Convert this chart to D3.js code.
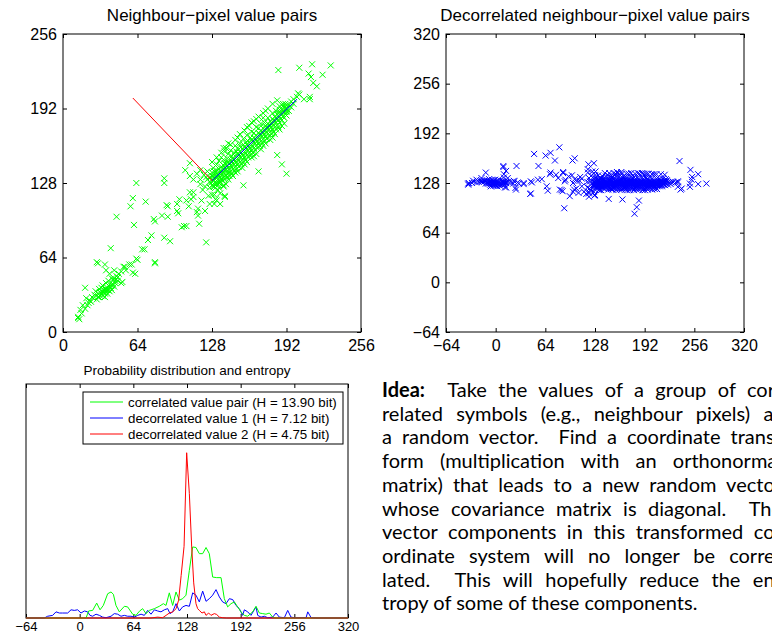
<!DOCTYPE html>
<html>
<head>
<meta charset="utf-8">
<script src="https://cdn.jsdelivr.net/npm/d3@7"></script>
<style>
body { margin: 0; background: #fff; overflow: hidden; }
svg { display: block; }
.axis text { font-family: "Liberation Sans", Arial, sans-serif; fill: #000; }
.axis line { stroke: #000; }
</style>
</head>
<body>
<div id="chart"></div>
<script>
// neighbour pixel value pairs [left pixel, right pixel]
var pixelPairs = [
  [13,12],[14,11],[16,16],[13,13],[15,19],[17,23],[19,20],[20,29],[19,38],[21,23],[23,27],[22,25],[25,30],[27,32],[28,35],
  [29,60],[30,33],[30,59],[31,37],[32,34],[33,38],[34,40],[35,36],[36,58],[37,42],[37,53],[38,36],[39,44],[40,41],[40,50],
  [41,72],[42,46],[43,45],[44,53],[45,42],[46,48],[46,99],[47,44],[48,50],[50,52],[50,42],[51,43],[52,56],[53,56],[54,53],
  [57,58],[59,58],[60,51],[62,50],[63,63],[64,62],[68,71],[70,71],
  [29,28],[31,30],[32,31],[33,33],[34,31],[35,34],[36,33],[37,35],[38,38],[39,36],[40,39],[41,38],[42,40],[43,41],[44,39],
  [45,44],[36,37],[34,35],[30,30],[26,29],[24,26],[38,33],[42,36],[47,47],[44,46],[40,35],[36,30],
  [61,92],[79,95],[73,79],[76,83],[79,60],[79,59],[87,81],[92,78],[60,115],[58,108],[63,128],[71,112],[78,97],[87,132],
  [87,128],[85,100],[90,108],[89,109],[90,99],[98,110],[98,104],[99,102],[102,90],[104,91],[106,91],[108,108],[100,114],
  [106,113],[109,120],[110,114],[112,116],[112,120],[109,145],[116,100],[117,93],[115,103],[123,77],[119,113],[126,110],
  [132,113],[135,110],[139,116],[139,117],[128,118],[122,125],[118,131],[123,133],[112,131],[109,134],[105,139],
  [115,136],[118,139],[121,135],[124,131],[127,128],[130,125],[133,122],[135,119],[125,117],[120,122],[130,110],[116,106],
  [122,104],[131,114],[138,125],[124,138],[118,127],[128,134],[134,128],[136,132],
  [126,124],[126,129],[126,133],[128,126],[128,131],[128,137],[129,125],[129,130],[129,134],[129,141],
  [130,127],[130,132],[130,138],[131,124],[131,129],[131,135],[132,128],[132,133],[132,139],[132,144],
  [133,126],[133,131],[133,136],[134,130],[134,134],[134,140],[134,147],[135,129],[135,133],[135,138],
  [136,131],[136,136],[136,142],[136,150],[137,130],[137,135],[137,140],[138,133],[138,137],[138,143],[138,148],
  [139,131],[139,139],[139,145],[139,155],[140,135],[140,140],[140,144],[141,133],[141,138],[141,143],[141,149],
  [142,136],[142,141],[142,146],[142,153],[143,134],[143,140],[143,145],[144,138],[144,143],[144,148],[144,156],
  [145,136],[145,142],[145,146],[145,151],[146,140],[146,145],[146,149],[147,138],[147,144],[147,148],[147,154],
  [148,142],[148,147],[148,151],[148,160],[149,140],[149,146],[149,150],[149,155],[150,144],[150,149],[150,153],[150,158],
  [151,142],[151,148],[151,152],[152,146],[152,151],[152,155],[152,162],[153,144],[153,150],[153,154],[153,159],
  [154,148],[154,153],[154,157],[155,146],[155,152],[155,156],[155,161],[155,166],[156,150],[156,155],[156,159],
  [157,148],[157,154],[157,158],[157,163],[158,152],[158,157],[158,161],[158,169],[159,150],[159,156],[159,160],[159,164],
  [160,154],[160,159],[160,163],[161,152],[161,158],[161,162],[161,167],[162,156],[162,161],[162,165],[162,172],
  [163,154],[163,160],[163,164],[164,158],[164,163],[164,167],[164,171],[165,156],[165,162],[165,166],
  [166,160],[166,165],[166,169],[166,176],[167,158],[167,164],[167,168],[168,162],[168,167],[168,171],[168,175],
  [169,160],[169,166],[169,170],[170,164],[170,169],[170,173],[170,179],[171,162],[171,168],[171,172],
  [172,166],[172,171],[172,175],[173,164],[173,170],[173,174],[173,180],[174,168],[174,173],[174,177],
  [175,166],[175,172],[175,176],[176,170],[176,175],[176,179],[176,184],[177,168],[177,174],[177,178],
  [178,172],[178,177],[178,181],[179,170],[179,176],[179,180],[180,174],[180,179],[180,183],[180,188],
  [181,172],[181,178],[181,182],[182,176],[182,181],[182,185],[183,174],[183,180],[183,184],[183,190],
  [184,178],[184,183],[184,187],[185,176],[185,182],[185,186],[186,180],[186,185],[186,189],[186,194],
  [187,183],[187,188],[188,182],[188,187],[188,191],[189,185],[189,190],[189,196],[190,184],[190,189],[190,193],
  [191,187],[191,192],[192,186],[192,190],[192,195],[194,190],[194,195],[196,193],[196,198],[198,196],[198,200],[201,202],
  [130,118],[134,124],[138,126],[142,131],[146,134],[150,138],[154,141],[158,146],[162,150],[166,153],[170,157],
  [174,162],[178,165],[182,170],[186,174],[190,179],[140,127],[148,137],[156,144],[164,151],[172,160],[180,167],[188,177],
  [128,146],[132,150],[136,154],[140,158],[144,161],[148,165],[152,170],[156,173],[160,177],[164,181],[168,185],
  [172,188],[176,192],[180,196],[184,199],[142,162],[150,167],[158,176],[166,183],[174,190],
  [138,158],[162,180],[172,184],[155,126],[168,138],[184,152],[188,144],[192,136],
  [185,225],[203,227],[214,230],[230,229],[211,222],[213,219],[223,221],[215,214],[218,211],[202,205],[203,204],
  [207,200],[212,202],[212,200],[191,196],[189,194],[186,191],[192,189],[192,192]
];

// mean of the pairs and end points of the two scaled eigenvectors
var pairMean = [128, 130];
var eigenEnds = [[201, 200], [60, 201]];
var eigenColors = ["#0000ff", "#ff0000"];

// estimated histograms [value, probability in %]
var pairHist = [
  [-64,0],[7.6,0],[10.7,0.24],[15.5,0.26],[20.3,0.51],[24.3,0.28],[28.2,0.43],[33.4,0.83],[37.4,0.89],[40.2,0.81],
  [43.3,0.43],[47.3,0.21],[53.3,0.40],[57.2,0.38],[63.2,0.13],[67.2,0.09],[71.2,0.23],[75.1,0.32],[79.1,0.15],[83.1,0.26],
  [89.1,0.32],[95,0.40],[99.8,0.49],[103,0.43],[106.9,0.86],[110.9,0.43],[114.9,0.89],[118.9,0.61],[122.8,0.66],[126.8,0.78],
  [130.8,1.63],[134.8,2.43],[138.7,2.41],[142.7,2.20],[146.7,2.20],[150.7,2.41],[154.6,2.20],[158.6,1.40],[163.4,1.38],
  [168.6,1.38],[172.5,0.66],[176.5,0.38],[180.5,0.49],[184.5,0.55],[188.4,0.38],[192.4,0.21],[196.4,0.09],[200.4,0.06],
  [206.3,0.21],[210.3,0.40],[214.3,0.17],[218.3,0.15],[222.2,0.13],[226.2,0.17],[230.2,0.03],[234.2,0],[320,0]
];
var dec1Hist = [
  [-64,0],[-42.1,0],[-38.2,0.06],[-32.2,0.09],[-28.2,0.21],[-24.2,0.17],[-20.3,0.17],[-14.3,0.17],[-10.3,0.28],[-6.4,0.26],
  [-2.4,0.28],[1.6,0.17],[5.6,0.24],[9.5,0.21],[12.3,0.09],[15.5,0.06],[19.5,0.13],[23.5,0.09],[27.4,0.03],[31.4,0.01],
  [37.4,0.06],[41.3,0.15],[45.3,0.13],[49.3,0.06],[53.3,0.09],[57.2,0.06],[61.2,0.06],[65.2,0.03],[69.2,0.09],[73.2,0.13],
  [77.1,0.09],[81.1,0.26],[85.1,0.13],[89.1,0.28],[93,0.24],[97,0.21],[101,0.28],[105,0.32],[107.7,0.15],[110.9,0.21],
  [114.9,0.49],[118.9,0.24],[122.8,0.38],[126.8,0.43],[130.8,0.40],[134.8,0.86],[138.7,0.78],[142.7,0.55],[146.7,0.92],
  [150.7,0.57],[154.6,0.66],[158.6,0.78],[162.6,0.97],[166.6,0.72],[170.5,0.55],[174.5,0.49],[178.5,0.66],[182.5,0.63],
  [186.4,0.43],[190.4,0.32],[194.4,0.09],[196.4,0.28],[200.4,0.21],[204.3,0.09],[210.3,0.38],[212.3,0.09],[216.3,0.03],
  [220.2,0.06],[224.2,0.01],[230.2,0.03],[234.2,0.17],[238.1,0.03],[244.1,0.01],[248.1,0.26],[252,0.03],[256,0.01],
  [270,0.01],[272,0.21],[276,0.01],[282,0],[320,0]
];
var dec2Hist = [
  [-64,0],[85,0],[93,0.03],[99,0.01],[103,0.09],[107,0.17],[111,0.21],[115,0.32],[118,0.61],[121,1.45],[124.5,2.45],
  [127.6,5.65],[130.8,4.25],[133.6,2.43],[136,1.2],[138.7,0.49],[140.7,0.32],[142.7,0.26],[145.9,0.17],[148.7,0.21],
  [150.7,0.09],[153.8,0.17],[156.6,0.09],[160.6,0.15],[163.4,0.12],[166.6,0.03],[170.5,0.01],[175,0],[320,0]
];
var histSeries = [dec1Hist, pairHist, dec2Hist];
var histColors = ["#0000ff", "#00ff00", "#ff0000"];
var legendLabels = ["correlated value pair (H = 13.90 bit)", "decorrelated value 1 (H = 7.12 bit)", "decorrelated value 2 (H = 4.75 bit)"];
var legendColors = ["#00ff00", "#0000ff", "#ff0000"];

var ticks256 = [0, 64, 128, 192, 256];
var ticks320 = [-64, 0, 64, 128, 192, 256, 320];

var ideaBold = "Idea:";
var ideaLines = [
  "  Take the values of a group of cor-",
  "related symbols (e.g., neighbour pixels) as",
  "a random vector.  Find a coordinate trans-",
  "form (multiplication with an orthonormal",
  "matrix) that leads to a new random vector",
  "whose covariance matrix is diagonal.  The",
  "vector components in this transformed co-",
  "ordinate system will no longer be corre-",
  "lated.  This will hopefully reduce the en-",
  "tropy of some of these components."
];

var svg = d3.select("#chart").append("svg").attr("width", 772).attr("height", 638);
svg.append("rect").attr("width", 772).attr("height", 638).attr("fill", "#fff");

// box with inward ticks on all four sides, matlab style
function boxAxes(x, y, xt, yt, fs, pad) {
  var xr = x.range(), yr = y.range();
  var g = svg.append("g");
  var xb = g.append("g").attr("class", "axis").attr("transform", "translate(0," + yr[0] + ")")
    .call(d3.axisBottom(x).tickValues(xt).tickSizeInner(-4).tickSizeOuter(0).tickPadding(pad));
  var xtop = g.append("g").attr("class", "axis").attr("transform", "translate(0," + yr[1] + ")")
    .call(d3.axisTop(x).tickValues(xt).tickSizeInner(-4).tickSizeOuter(0).tickFormat(""));
  xb.selectAll("text").style("font-size", fs + "px");
  [xb, xtop].forEach(function(a) { a.select(".domain").remove(); });
  if (yt) {
    var yl = g.append("g").attr("class", "axis").attr("transform", "translate(" + xr[0] + ",0)")
      .call(d3.axisLeft(y).tickValues(yt).tickSizeInner(-4).tickSizeOuter(0).tickPadding(6));
    var yrt = g.append("g").attr("class", "axis").attr("transform", "translate(" + xr[1] + ",0)")
      .call(d3.axisRight(y).tickValues(yt).tickSizeInner(-4).tickSizeOuter(0).tickFormat(""));
    yl.selectAll("text").style("font-size", fs + "px");
    [yl, yrt].forEach(function(a) { a.select(".domain").remove(); });
  }
  g.append("rect")
    .attr("x", xr[0]).attr("y", yr[1])
    .attr("width", xr[1] - xr[0]).attr("height", yr[0] - yr[1])
    .attr("fill", "none").attr("stroke", "#000").attr("stroke-width", 1);
}

function title(txt, cx, y, fs) {
  svg.append("text").attr("x", cx).attr("y", y).attr("text-anchor", "middle")
    .style("font-family", "Liberation Sans, Arial, sans-serif").style("font-size", fs + "px")
    .text(txt);
}

var cross = "M-3,-3L3,3M-3,3L3,-3";

// ---- plot 1: correlated pairs
var x1 = d3.scaleLinear().domain([0, 256]).range([63, 361]);
var y1 = d3.scaleLinear().domain([0, 256]).range([332, 34]);

svg.append("g").selectAll("path").data(pixelPairs).enter().append("path")
  .attr("d", cross)
  .attr("transform", function(d) { return "translate(" + x1(d[0]) + "," + y1(d[1]) + ")"; })
  .attr("stroke", "#00ff00").attr("stroke-width", 1).attr("fill", "none");

svg.append("g").selectAll("line").data(eigenEnds).enter().append("line")
  .attr("x1", x1(pairMean[0])).attr("y1", y1(pairMean[1]))
  .attr("x2", function(d) { return x1(d[0]); }).attr("y2", function(d) { return y1(d[1]); })
  .attr("stroke", function(d, i) { return eigenColors[i]; }).attr("stroke-width", 1);

boxAxes(x1, y1, ticks256, ticks256, 16, 8);
title("Neighbour\u2212pixel value pairs", 212, 21, 17);

// ---- plot 2: pairs rotated onto the eigenvector basis (KLT)
var klt = [[Math.SQRT1_2, Math.SQRT1_2], [-Math.SQRT1_2, Math.SQRT1_2]];
var decorrelated = pixelPairs.map(function(p) {
  var a = p[0] - 128, b = p[1] - 128;
  return [klt[0][0] * a + klt[0][1] * b + 128, klt[1][0] * a + klt[1][1] * b + 128];
});

var x2 = d3.scaleLinear().domain([-64, 320]).range([446, 744]);
var y2 = d3.scaleLinear().domain([-64, 320]).range([332, 34]);

svg.append("g").selectAll("path").data(decorrelated).enter().append("path")
  .attr("d", cross)
  .attr("transform", function(d) { return "translate(" + x2(d[0]) + "," + y2(d[1]) + ")"; })
  .attr("stroke", "#0000ff").attr("stroke-width", 1).attr("fill", "none");

boxAxes(x2, y2, ticks320, ticks320, 16, 8);
title("Decorrelated neighbour\u2212pixel value pairs", 595, 21, 17);

// ---- plot 3: histograms
var x3 = d3.scaleLinear().domain([-64, 320]).range([26, 348]);
var y3 = d3.scaleLinear().domain([0, 8]).range([618, 384]);

var line3 = d3.line().x(function(d) { return x3(d[0]); }).y(function(d) { return y3(d[1]); });

boxAxes(x3, y3, ticks320, null, 13, 4);

svg.append("g").selectAll("path").data(histSeries).enter().append("path")
  .attr("d", line3)
  .attr("fill", "none")
  .attr("stroke", function(d, i) { return histColors[i]; })
  .attr("stroke-width", 1);

title("Probability distribution and entropy", 187, 375, 13.5);

var leg = svg.append("g").attr("transform", "translate(83,392)");
leg.append("rect").attr("width", 260).attr("height", 52)
  .attr("fill", "#fff").attr("stroke", "#000").attr("stroke-width", 1);
var rows = leg.selectAll("g").data(legendLabels).enter().append("g")
  .attr("transform", function(d, i) { return "translate(0," + (10 + i * 16) + ")"; });
rows.append("line").attr("x1", 7).attr("x2", 40)
  .attr("stroke", function(d, i) { return legendColors[i]; }).attr("stroke-width", 1);
rows.append("text").attr("x", 45).attr("dy", "0.35em")
  .style("font-family", "Liberation Sans, Arial, sans-serif").style("font-size", "13.3px")
  .text(function(d) { return d; });

// ---- idea text, justified to a right edge past the page
var textLeft = 382, textRight = 782;
var para = svg.append("g")
  .style("font-family", "Lato, 'Open Sans', sans-serif").style("font-size", "20px").attr("fill", "#000");
ideaLines.forEach(function(s, i) {
  var t = para.append("text").attr("x", textLeft).attr("y", 397 + i * 23.7).attr("xml:space", "preserve");
  if (i === 0) t.append("tspan").style("font-weight", "bold").text(ideaBold);
  t.append("tspan").text(s);
  if (i < ideaLines.length - 1) {
    var natural = t.node().getComputedTextLength();
    var gaps = (s.match(/ /g) || []).length;
    t.style("word-spacing", ((textRight - textLeft - natural) / gaps) + "px");
  }
});
</script>
</body>
</html>
